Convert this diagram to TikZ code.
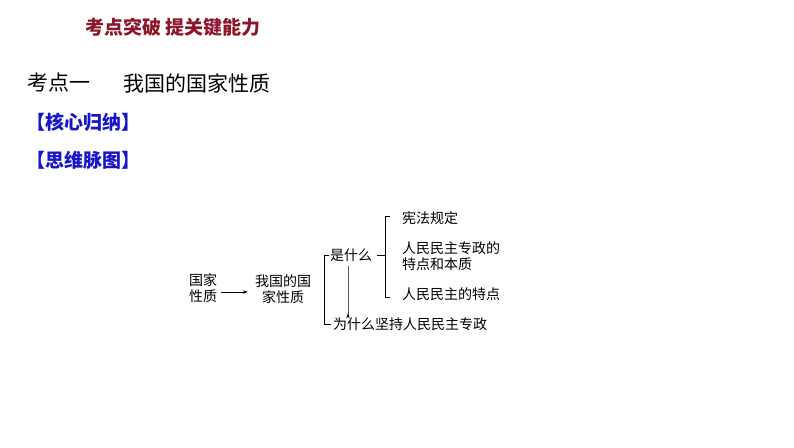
\documentclass[tikz,border=0pt]{standalone}
\usepackage{fontspec}
\newfontfamily\cjk{Noto Sans CJK SC}
\usetikzlibrary{arrows.meta}
\definecolor{titlered}{RGB}{140,22,42}
\definecolor{headblue}{RGB}{22,22,200}
\tikzset{
  lbl/.style={inner sep=0pt, font=\cjk\fontsize{14}{16}\selectfont, align=center},
  lblw/.style={lbl, anchor=west, align=left},
  link/.style={line width=0.6pt, black},
  arr/.style={link, -{Stealth[length=5pt,width=3.5pt]}},
}
\begin{document}
\begin{tikzpicture}[x=1pt,y=-1pt]
\useasboundingbox (0,0) rectangle (794,447);
\node[anchor=west, inner sep=0pt, text=titlered, font=\cjk\bfseries\fontsize{19}{19}\selectfont] (title) at (85,27) {考点突破 提关键能力};
\node[anchor=west, inner sep=0pt, font=\cjk\fontsize{21}{21}\selectfont] (kd) at (27,83) {考点一};
\node[anchor=west, inner sep=0pt, font=\cjk\fontsize{21}{21}\selectfont] (kdt) at (123,83) {我国的国家性质};
\node[anchor=west, inner sep=0pt, text=headblue, font=\cjk\bfseries\fontsize{19}{19}\selectfont] (hx) at (26,122) {【核心归纳】};
\node[anchor=west, inner sep=0pt, text=headblue, font=\cjk\bfseries\fontsize{19}{19}\selectfont] (sw) at (26,160) {【思维脉图】};

\node[lbl] (gj) at (203,288) {国家\\性质};
\node[lbl] (wg) at (283,289) {我国的国\\家性质};
\node[lbl] (shi) at (351,255) {是什么};
\node[lblw] (why) at (333,324) {为什么坚持人民民主专政};
\node[lblw] (xf) at (402,218) {宪法规定};
\node[lblw] (rm) at (402,256) {人民民主专政的\\特点和本质};
\node[lblw] (td) at (402,294) {人民民主的特点};

\draw[arr] ([shift={(4,4)}]gj.east) -- ([shift={(-7,3)}]wg.west);
\draw[link] ([xshift=-1]shi.west) -- ++(-5,0) |- ([xshift=-2]why.west);
\draw[arr] ([shift={(-3,4)}]shi.south) -- ([xshift=-3]shi.south |- why.north) -- ++(0,-4);
\draw[link] ([xshift=5]shi.east) -- ++(8,0) coordinate (b2);
\draw[link] ([shift={(-12,-2)}]xf.west) -- ++(-5,0) |- ([shift={(-12,3)}]td.west);
\end{tikzpicture}
\end{document}
